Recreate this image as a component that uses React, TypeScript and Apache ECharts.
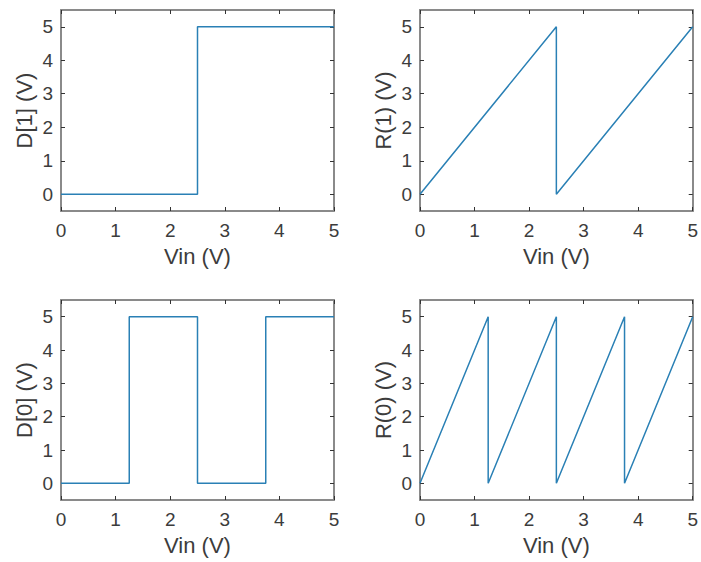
import React, { useEffect, useRef } from "react";
import * as echarts from "echarts";

const d1Vin = [0, 2.5, 2.5, 5];
const d1Out = [0, 0, 5, 5];
const r1Vin = [0, 2.5, 2.5, 5];
const r1Out = [0, 5, 0, 5];
const d0Vin = [0, 1.25, 1.25, 2.5, 2.5, 3.75, 3.75, 5];
const d0Out = [0, 0, 5, 5, 0, 0, 5, 5];
const r0Vin = [0, 1.25, 1.25, 2.5, 2.5, 3.75, 3.75, 5];
const r0Out = [0, 5, 0, 5, 0, 5, 0, 5];

const tickValues = [0, 1, 2, 3, 4, 5];
const xLabel = "Vin (V)";
const yLabels = ["D[1] (V)", "R(1) (V)", "D[0] (V)", "R(0) (V)"];

const panels = [
  { x: d1Vin, y: d1Out },
  { x: r1Vin, y: r1Out },
  { x: d0Vin, y: d0Out },
  { x: r0Vin, y: r0Out },
];

const LINE = "#2a80b5";
const BOX = "#8a8a8a";
const TICK = "#333333";
const TEXT = "#3c3c3c";
const FONT = "Liberation Sans, Arial, sans-serif";

export default function App() {
  const ref = useRef<HTMLDivElement>(null);
  useEffect(() => {
    if (!ref.current) return;
    const chart = echarts.init(ref.current, undefined, { renderer: "svg" });
    const gridPos = [
      { left: 61, top: 10, h: 201 },
      { left: 420, top: 10, h: 201 },
      { left: 61, top: 300, h: 200 },
      { left: 420, top: 300, h: 200 },
    ];
    const grid = gridPos.map((g) => ({ left: g.left, top: g.top, width: 273, height: g.h }));
    const xAxis: any[] = [];
    const yAxis: any[] = [];
    const series: any[] = [];
    const axisLine = { show: true, onZero: false, lineStyle: { color: BOX, width: 2 } };
    const axisTick = { show: true, inside: true, length: 4, lineStyle: { color: TICK, width: 1 }, customValues: tickValues };
    panels.forEach((p, i) => {
      xAxis.push({
        type: "value", gridIndex: i, position: "bottom", min: 0, max: 5, interval: 1,
        axisLine, axisTick: { ...axisTick },
        axisLabel: { color: TEXT, fontSize: 19, fontFamily: FONT, margin: 10, customValues: tickValues },
        splitLine: { show: false },
        name: xLabel, nameLocation: "middle", nameGap: 34,
        nameTextStyle: { color: TEXT, fontSize: 22, fontFamily: FONT },
      });
      xAxis.push({
        type: "value", gridIndex: i, position: "top", min: 0, max: 5, interval: 1,
        axisLine, axisTick: { ...axisTick }, axisLabel: { show: false }, splitLine: { show: false },
      });
      yAxis.push({
        type: "value", gridIndex: i, position: "left", min: -0.5, max: 5.5,
        axisLine, axisTick: { ...axisTick },
        axisLabel: { color: TEXT, fontSize: 19, fontFamily: FONT, margin: 8, customValues: tickValues },
        splitLine: { show: false },
        name: yLabels[i], nameLocation: "middle", nameGap: 26,
        nameTextStyle: { color: TEXT, fontSize: 22, fontFamily: FONT },
      });
      yAxis.push({
        type: "value", gridIndex: i, position: "right", min: -0.5, max: 5.5,
        axisLine, axisTick: { ...axisTick }, axisLabel: { show: false }, splitLine: { show: false },
      });
      series.push({
        type: "line",
        xAxisIndex: i * 2,
        yAxisIndex: i * 2,
        data: p.x.map((v, k) => [v, p.y[k]]),
        showSymbol: false,
        lineStyle: { color: LINE, width: 1.5 },
        silent: true,
      });
    });
    chart.setOption({
      animation: false,
      backgroundColor: "#ffffff",
      grid,
      xAxis,
      yAxis,
      series,
    });
    return () => chart.dispose();
  }, []);
  return <div ref={ref} style={{ width: 701, height: 562, position: "absolute", left: 0, top: 0 }} />;
}
